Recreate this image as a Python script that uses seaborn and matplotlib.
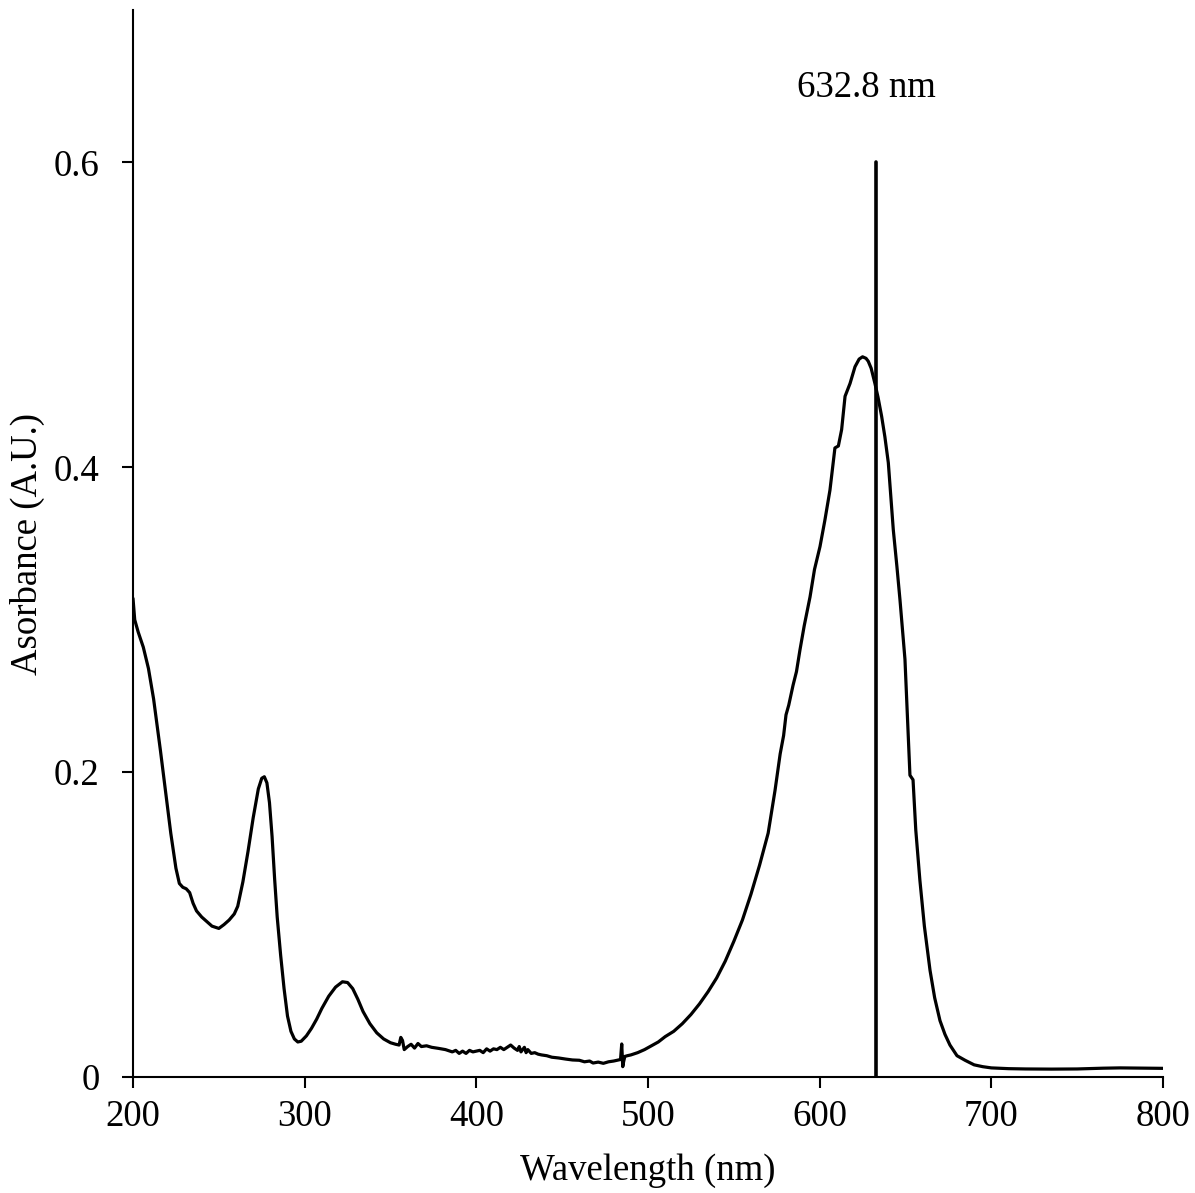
import matplotlib
matplotlib.use("Agg")
import matplotlib.pyplot as plt
import seaborn as sns
import pandas as pd

# Absorbance spectrum, in paired segments
wl_uv = [200, 201, 203, 206, 209, 212, 216, 219, 222, 225, 227, 229, 231, 233, 235, 237,
         240, 243, 246, 250, 253, 256, 259, 261, 264, 267, 270, 273, 275, 276.5, 278, 279.5,
         281, 282.5, 284, 286, 288, 290, 292, 294, 296, 298]
ab_uv = [0.314, 0.300, 0.292, 0.282, 0.268, 0.248, 0.214, 0.187, 0.160, 0.137, 0.127, 0.1245,
         0.1235, 0.121, 0.114, 0.109,
         0.105, 0.102, 0.099, 0.0975, 0.100, 0.103, 0.107, 0.112, 0.128, 0.148, 0.170, 0.189,
         0.196, 0.197, 0.193, 0.180,
         0.158, 0.130, 0.105, 0.080, 0.058, 0.040, 0.030, 0.025, 0.023, 0.0235]

wl_320 = [301, 304, 307, 310, 314, 318, 322, 325, 328, 331, 334, 338, 342, 346, 350]
ab_320 = [0.027, 0.032, 0.038, 0.045, 0.053, 0.059, 0.0625, 0.062, 0.058, 0.051, 0.043,
          0.035, 0.029, 0.025, 0.0225]

wl_flat = [353, 355, 356, 357, 358, 360, 362, 364, 366, 368, 371, 374, 378, 382, 386,
           388, 390, 392, 394, 396, 398, 400, 402, 404, 406, 408, 410, 412, 414, 416, 418,
           420, 422, 424, 425, 426, 428, 429, 430, 432, 434, 436, 438,
           441, 444, 448, 452, 456, 460, 463, 466, 468, 471, 474, 477, 480, 482, 484,
           484.7, 485.3, 485.8, 486.5, 488, 490]
ab_flat = [0.0215, 0.021, 0.026, 0.024, 0.018, 0.020, 0.0215, 0.019, 0.022, 0.020, 0.0205,
           0.0195, 0.0188, 0.018, 0.0165,
           0.0175, 0.0155, 0.017, 0.0155, 0.0175, 0.0165, 0.017, 0.0175, 0.0160, 0.0185,
           0.017, 0.0185, 0.0180, 0.0195, 0.0180, 0.0195,
           0.021, 0.019, 0.0175, 0.020, 0.0165, 0.0195, 0.0160, 0.0180, 0.0155, 0.0160,
           0.0150, 0.0145,
           0.0140, 0.0130, 0.0125, 0.0118, 0.0112, 0.0110, 0.0100, 0.0105, 0.0092, 0.0098,
           0.0090, 0.0100, 0.0105, 0.0110, 0.0115,
           0.0217, 0.0068, 0.0100, 0.0135, 0.0140, 0.0145]

wl_vis = [494, 498, 502, 506, 510, 515, 520, 525, 530, 535, 540, 545, 550, 555, 560, 565,
          570, 574, 577, 579, 580.4, 582, 584.5, 586.5, 588.5, 591, 594.4, 597, 600.2, 603, 606,
          608.9, 610.9, 612.8, 614.8, 617.7, 620.6, 623, 625, 627, 628.3, 630, 632.2, 634,
          636.1, 638, 640, 642.9]
ab_vis = [0.0160, 0.0180, 0.0205, 0.0230, 0.0265, 0.0300, 0.0350, 0.0410, 0.0480, 0.0560,
          0.0650, 0.0760, 0.0890, 0.1030, 0.1200, 0.1390,
          0.1600, 0.1880, 0.2120, 0.2240, 0.2376, 0.2440, 0.2570, 0.2660, 0.2800, 0.2960,
          0.3150, 0.3330, 0.3480, 0.3650, 0.3850,
          0.4127, 0.4140, 0.4247, 0.4466, 0.4550, 0.4660, 0.4710, 0.4725, 0.4715, 0.4696,
          0.4650, 0.4550, 0.4460, 0.4335, 0.4200, 0.4030, 0.3590]

wl_tail = [645, 646.8, 649.7, 652.6, 654.4, 656, 658.4, 661, 664.3, 667, 670.1, 673, 675.9,
           680, 684.7, 690, 695, 700, 710, 720, 735, 750, 765, 775, 785, 795, 800]
ab_tail = [0.3350, 0.3130, 0.2740, 0.1980, 0.1950, 0.1620, 0.1290, 0.0990, 0.0700, 0.0520,
           0.0370, 0.0280, 0.0210,
           0.0140, 0.0110, 0.0080, 0.0068, 0.0060, 0.0055, 0.0053, 0.0052, 0.0053, 0.0058,
           0.0060, 0.0059, 0.0058, 0.0057]

laser_line = 632.8
laser_top = 0.6
laser_label = "632.8 nm"

x_ticks = [200, 300, 400, 500, 600, 700, 800]
y_ticks = [0, 0.2, 0.4, 0.6]
y_tick_labels = ["0", "0.2", "0.4", "0.6"]

wavelength = wl_uv + wl_320 + wl_flat + wl_vis + wl_tail
absorbance = ab_uv + ab_320 + ab_flat + ab_vis + ab_tail

sns.set_style("ticks")
plt.rcParams["font.family"] = ["Liberation Serif", "DejaVu Serif"]
plt.rcParams["text.color"] = "black"
plt.rcParams["axes.labelcolor"] = "black"

df = pd.DataFrame({"Wavelength": wavelength, "Absorbance": absorbance})

fig = plt.figure(figsize=(11.95, 11.93), dpi=100)
ax = fig.add_axes([0.1113, 0.0972, 0.8619, 0.8944])

sns.lineplot(data=df, x="Wavelength", y="Absorbance", ax=ax, color="black",
             linewidth=2.3, sort=False, estimator=None)
ax.plot([laser_line, laser_line], [0, laser_top], color="black", linewidth=2.6)
ax.text(627.5, 0.649, laser_label, fontsize=26.5, ha="center", va="center", color="black")

ax.set_xlim(200, 800)
ax.set_ylim(0, 0.7)
ax.set_xticks(x_ticks)
ax.set_xticklabels([str(t) for t in x_ticks])
ax.set_yticks(y_ticks)
ax.set_yticklabels(y_tick_labels)
ax.tick_params(axis="both", direction="out", length=8, width=1.5, labelsize=26.5,
               colors="black")
ax.tick_params(axis="x", pad=8)
ax.tick_params(axis="y", pad=16)
for side in ["top", "right"]:
    ax.spines[side].set_visible(False)
for side in ["left", "bottom"]:
    ax.spines[side].set_linewidth(1.5)
    ax.spines[side].set_color("black")

ax.set_xlabel("Wavelength (nm)", fontsize=26.5, labelpad=14, color="black")
ax.set_ylabel("Asorbance (A.U.)", fontsize=26.5, color="black")
ax.yaxis.set_label_coords(-0.0854, 0.5)

fig.savefig("out.png", dpi=100)
